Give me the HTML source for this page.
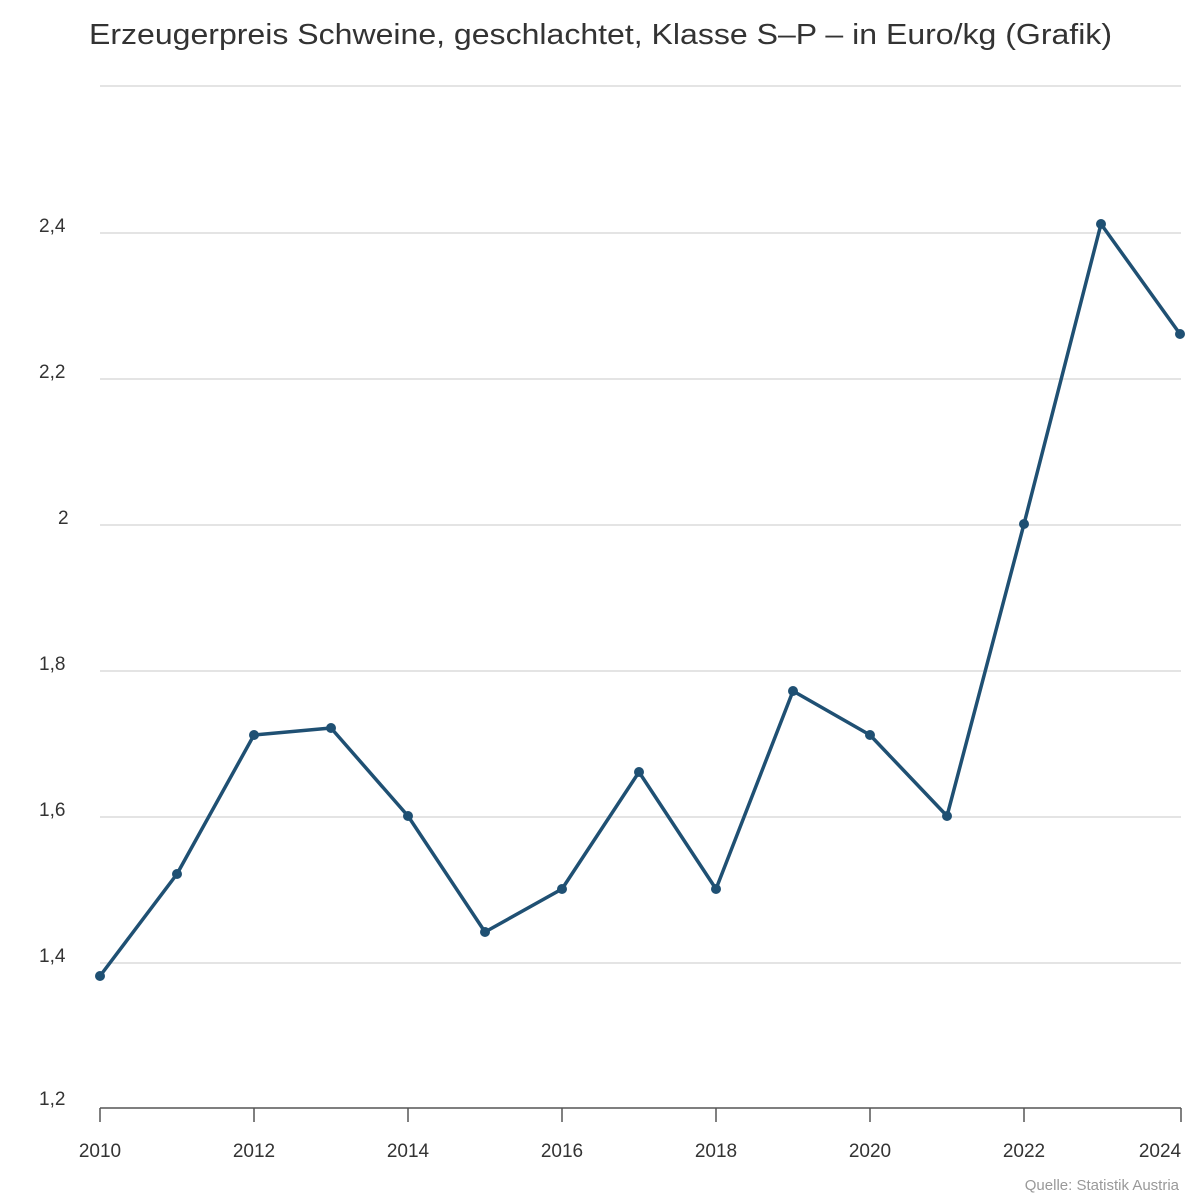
<!DOCTYPE html>
<html><head><meta charset="utf-8"><style>
html,body{margin:0;padding:0;background:#fff;}
svg{display:block;font-family:"Liberation Sans",Arial,sans-serif;}
</style></head><body>
<svg width="1200" height="1200" viewBox="0 0 1200 1200">
<text x="89" y="44" font-size="29" fill="#333" textLength="1023" lengthAdjust="spacingAndGlyphs">Erzeugerpreis Schweine, geschlachtet, Klasse S–P – in Euro/kg (Grafik)</text>
<g stroke="#dcdcdc" stroke-width="1.5">
<line x1="100" x2="1181" y1="86" y2="86"/>
<line x1="100" x2="1181" y1="233" y2="233"/>
<line x1="100" x2="1181" y1="379" y2="379"/>
<line x1="100" x2="1181" y1="525" y2="525"/>
<line x1="100" x2="1181" y1="671" y2="671"/>
<line x1="100" x2="1181" y1="817" y2="817"/>
<line x1="100" x2="1181" y1="963" y2="963"/>
</g>
<g font-size="19" fill="#333">
<text x="39" y="232">2,4</text>
<text x="39" y="378">2,2</text>
<text x="58" y="524">2</text>
<text x="39" y="670">1,8</text>
<text x="39" y="816">1,6</text>
<text x="39" y="962">1,4</text>
<text x="39" y="1105">1,2</text>
</g>
<line x1="100" x2="1181" y1="1108" y2="1108" stroke="#555" stroke-width="1.5"/>
<g stroke="#555" stroke-width="1.5">
<line x1="100" x2="100" y1="1108" y2="1122"/>
<line x1="254" x2="254" y1="1108" y2="1122"/>
<line x1="408" x2="408" y1="1108" y2="1122"/>
<line x1="562" x2="562" y1="1108" y2="1122"/>
<line x1="716" x2="716" y1="1108" y2="1122"/>
<line x1="870" x2="870" y1="1108" y2="1122"/>
<line x1="1024" x2="1024" y1="1108" y2="1122"/>
<line x1="1181" x2="1181" y1="1108" y2="1122"/>
</g>
<g font-size="19" fill="#333" text-anchor="middle">
<text x="100" y="1157">2010</text>
<text x="254" y="1157">2012</text>
<text x="408" y="1157">2014</text>
<text x="562" y="1157">2016</text>
<text x="716" y="1157">2018</text>
<text x="870" y="1157">2020</text>
<text x="1024" y="1157">2022</text>
<text x="1160" y="1157">2024</text>
</g>
<text x="1179" y="1190" font-size="15" fill="#999" text-anchor="end">Quelle: Statistik Austria</text>
<polyline fill="none" stroke="#1f5073" stroke-width="3.5" stroke-linejoin="round" points="100,976 177,874 254,735 331,728 408,816 485,932 562,889 639,772 716,889 793,691 870,735 947,816 1024,524 1101,224 1180,334"/>
<g fill="#1f5073">
<circle cx="100" cy="976" r="5"/><circle cx="177" cy="874" r="5"/><circle cx="254" cy="735" r="5"/><circle cx="331" cy="728" r="5"/><circle cx="408" cy="816" r="5"/><circle cx="485" cy="932" r="5"/><circle cx="562" cy="889" r="5"/><circle cx="639" cy="772" r="5"/><circle cx="716" cy="889" r="5"/><circle cx="793" cy="691" r="5"/><circle cx="870" cy="735" r="5"/><circle cx="947" cy="816" r="5"/><circle cx="1024" cy="524" r="5"/><circle cx="1101" cy="224" r="5"/><circle cx="1180" cy="334" r="5"/>
</g>
</svg>
</body></html>
